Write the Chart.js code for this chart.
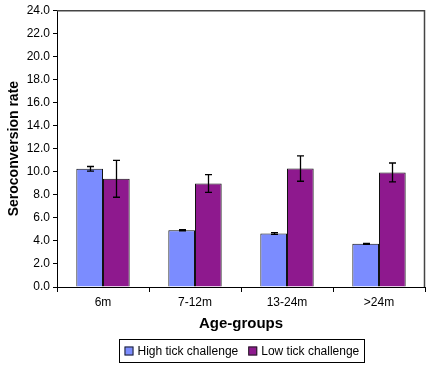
<!DOCTYPE html>
<html>
<head>
<meta charset="utf-8">
<script src="https://cdn.jsdelivr.net/npm/chart.js@4"></script>
<style>html,body{margin:0;padding:0;background:#fff;}canvas{display:block;}</style>
</head>
<body>
<canvas id="c" width="427" height="365"></canvas>
<script>
const categories = ['6m', '7-12m', '13-24m', '>24m'];
const highTick = [10.25, 4.92, 4.64, 3.74];
const highTickErr = [0.2, 0.05, 0.07, 0.05];
const lowTick = [9.38, 8.97, 10.27, 9.93];
const lowTickErr = [1.6, 0.77, 1.1, 0.82];
const seriesNames = ['High tick challenge', 'Low tick challenge'];
const yTicks = [0, 2, 4, 6, 8, 10, 12, 14, 16, 18, 20, 22, 24];

const FONT = '"Liberation Sans", Arial, sans-serif';
const errors = [highTickErr, lowTickErr];

const errorBarPlugin = {
  id: 'errorBars',
  afterDatasetsDraw(chart) {
    const ctx = chart.ctx;
    const y = chart.scales.y;
    ctx.save();
    ctx.strokeStyle = '#000';
    ctx.lineWidth = 1.3;
    chart.data.datasets.forEach((ds, i) => {
      const meta = chart.getDatasetMeta(i);
      meta.data.forEach((bar, j) => {
        const v = ds.data[j], e = errors[i][j];
        const yt = y.getPixelForValue(v + e), yb = y.getPixelForValue(v - e);
        const x = Math.round(bar.x) + 0.5;
        ctx.beginPath();
        ctx.moveTo(x, yt); ctx.lineTo(x, yb);
        ctx.moveTo(x - 3.5, yt); ctx.lineTo(x + 3.5, yt);
        ctx.moveTo(x - 3.5, yb); ctx.lineTo(x + 3.5, yb);
        ctx.stroke();
      });
    });
    ctx.restore();
  }
};

const framePlugin = {
  id: 'frame',
  afterDraw(chart) {
    const ctx = chart.ctx, a = chart.chartArea;
    ctx.save();
    ctx.strokeStyle = '#444';
    ctx.lineWidth = 1.5;
    ctx.beginPath();
    ctx.moveTo(a.left, a.top + 0.5);
    ctx.lineTo(a.right - 0.5, a.top + 0.5);
    ctx.lineTo(a.right - 0.5, a.bottom);
    ctx.stroke();
    // legend
    ctx.font = '12px ' + FONT;
    ctx.textBaseline = 'middle';
    const sq = 9, gap = 4, itemGap = 10, padX = 5;
    const widths = seriesNames.map(n => ctx.measureText(n).width);
    const total = widths.reduce((s, w) => s + sq + gap + w, 0) + itemGap * (seriesNames.length - 1) + padX * 2;
    const cx = (a.left + a.right) / 2;
    const bx = Math.round(cx - total / 2) + 0.5, by = 339.5, bh = 23;
    ctx.strokeStyle = '#000';
    ctx.lineWidth = 1;
    ctx.strokeRect(bx, by, Math.round(total), bh);
    let x = bx + padX;
    const cy = by + bh / 2;
    seriesNames.forEach((n, i) => {
      ctx.fillStyle = chart.data.datasets[i].backgroundColor;
      ctx.fillRect(x, cy - sq / 2, sq, sq);
      ctx.strokeStyle = '#222';
      ctx.strokeRect(x + 0.5, cy - sq / 2 + 0.5, sq - 1, sq - 1);
      ctx.fillStyle = '#000';
      ctx.fillText(n, x + sq + gap, cy + 0.5);
      x += sq + gap + widths[i] + itemGap;
    });
    ctx.restore();
  }
};

new Chart(document.getElementById('c'), {
  type: 'bar',
  data: {
    labels: categories,
    datasets: [
      { label: seriesNames[0], data: highTick, backgroundColor: '#7B8CFF', borderColor: '#111', borderWidth: 1 },
      { label: seriesNames[1], data: lowTick, backgroundColor: '#8E198E', borderColor: '#111', borderWidth: 1 }
    ]
  },
  options: {
    responsive: false,
    animation: false,
    devicePixelRatio: 1,
    layout: { padding: { top: 9, right: 2, bottom: 28, left: 0 } },
    datasets: { bar: { categoryPercentage: 0.58, barPercentage: 1 } },
    plugins: { legend: { display: false }, tooltip: { enabled: false } },
    scales: {
      x: {
        grid: { drawOnChartArea: false, drawTicks: true, tickLength: 5, color: '#000', offset: true },
        border: { color: '#000', width: 1 },
        ticks: { color: '#000', font: { family: FONT, size: 12 }, padding: 3, maxRotation: 0 },
        title: { display: true, text: 'Age-groups', color: '#000', font: { family: FONT, size: 15, weight: 'bold' }, padding: { top: 0, bottom: 4 } },
        afterFit(s) { s.height = 50; }
      },
      y: {
        min: 0, max: 24,
        afterBuildTicks(s) { s.ticks = yTicks.map(v => ({ value: v })); },
        grid: { drawOnChartArea: false, drawTicks: true, tickLength: 4, color: '#000' },
        border: { color: '#000', width: 1 },
        ticks: { color: '#000', font: { family: FONT, size: 12 }, padding: 3, callback: v => Number(v).toFixed(1) },
        title: { display: true, text: 'Seroconversion rate', color: '#000', font: { family: FONT, size: 14, weight: 'bold' }, padding: { top: 6, bottom: 0 } },
        afterFit(s) { s.width = 57; }
      }
    }
  },
  plugins: [errorBarPlugin, framePlugin]
});
</script>
</body>
</html>
